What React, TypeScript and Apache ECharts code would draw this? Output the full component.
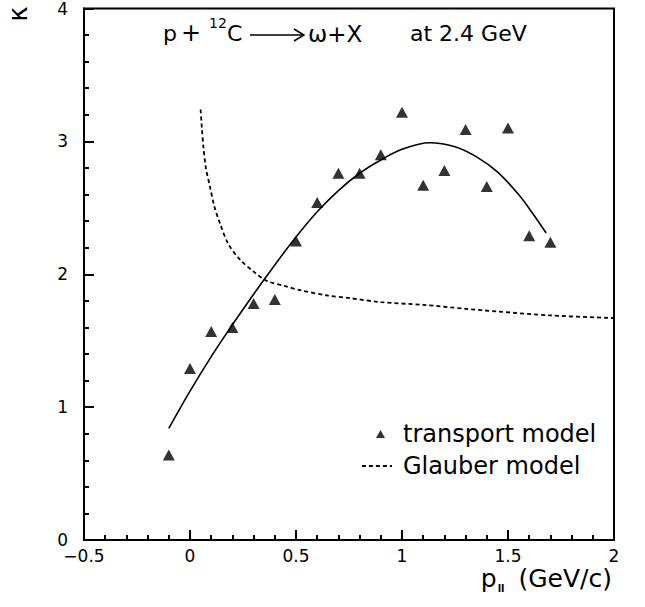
import React, { useEffect, useRef } from 'react';
import * as echarts from 'echarts';

const FONT = '"DejaVu Sans", "Liberation Sans", sans-serif';

// transport model points
const transportX = [-0.1, 0.0, 0.1, 0.2, 0.3, 0.4, 0.5, 0.6, 0.7, 0.8, 0.9, 1.0, 1.1, 1.2, 1.3, 1.4, 1.5, 1.6, 1.7];
const transportY = [0.64, 1.29, 1.57, 1.6, 1.78, 1.81, 2.25, 2.54, 2.76, 2.76, 2.9, 3.22, 2.67, 2.78, 3.09, 2.66, 3.1, 2.29, 2.24];

// solid fit curve through the transport points
const fitX = [-0.1, 0.0, 0.1, 0.2, 0.3, 0.4, 0.5, 0.6, 0.7, 0.8, 0.9, 1.0, 1.13, 1.25, 1.35, 1.45, 1.55, 1.62, 1.68];
const fitY = [0.84, 1.12, 1.38, 1.62, 1.85, 2.07, 2.28, 2.47, 2.63, 2.76, 2.86, 2.94, 2.99, 2.96, 2.885, 2.77, 2.6, 2.45, 2.31];

// Glauber model (dashed)
const glauberX = [0.05, 0.056, 0.063, 0.075, 0.094, 0.115, 0.142, 0.18, 0.236, 0.3, 0.362, 0.45, 0.519, 0.65, 0.755, 0.9, 1.1, 1.3, 1.447, 1.7, 2.0];
const glauberY = [3.24, 3.1, 2.96, 2.8, 2.66, 2.51, 2.38, 2.23, 2.11, 2.02, 1.95, 1.91, 1.88, 1.84, 1.82, 1.79, 1.77, 1.74, 1.72, 1.69, 1.67];

const xTickLabels = ['-0.5', '0', '0.5', '1', '1.5', '2'];
const yTickLabels = ['0', '1', '2', '3', '4'];

const zip = (xs: number[], ys: number[]) => xs.map((x, i) => [x, ys[i]]);

export default function App() {
  const ref = useRef<HTMLDivElement>(null);
  useEffect(() => {
    if (!ref.current) return;
    const chart = echarts.init(ref.current, null, { renderer: 'svg' });
    const axisCommon = {
      axisLine: { show: true, onZero: false, lineStyle: { color: '#000', width: 2 } },
      axisTick: { show: true, inside: true, length: 10, lineStyle: { color: '#000', width: 2 } },
      minorTick: { show: true, splitNumber: 5, length: 5, lineStyle: { color: '#000', width: 2 } },
      splitLine: { show: false },
      minorSplitLine: { show: false },
    };
    const option: any = {
      animation: false,
      backgroundColor: '#fff',
      grid: {
        left: 84, top: 8, right: 31, bottom: 67,
        show: true, borderColor: '#000', borderWidth: 2, backgroundColor: 'transparent',
      },
      xAxis: {
        type: 'value', min: -0.5, max: 2, interval: 0.5,
        ...axisCommon,
        axisLabel: {
          color: '#000', fontSize: 17, fontFamily: FONT, margin: 7,
          formatter: (v: number) => {
            const idx = Math.round((v + 0.5) / 0.5);
            const s = xTickLabels[idx] ?? String(v);
            return s.replace('-', '\u2212');
          },
        },
      },
      yAxis: {
        type: 'value', min: 0, max: 4, interval: 1,
        ...axisCommon,
        axisLabel: {
          color: '#000', fontSize: 17, fontFamily: FONT, margin: 16,
          formatter: (v: number) => yTickLabels[Math.round(v)] ?? String(v),
        },
      },
      legend: [
        {
          data: ['transport model'],
          left: 376, top: 422, padding: 0,
          itemWidth: 9, itemHeight: 8,
          selectedMode: false,
          textStyle: { color: '#000', fontSize: 24, fontFamily: FONT, lineHeight: 24, padding: [0, 0, 0, 13] },
        },
        {
          data: ['Glauber model'],
          left: 361, top: 454, padding: 0,
          itemWidth: 30, itemHeight: 12,
          selectedMode: false,
          itemStyle: { opacity: 0 },
          lineStyle: { opacity: 1, color: '#000', width: 1.8, type: [4, 3] },
          textStyle: { color: '#000', fontSize: 24, fontFamily: FONT, lineHeight: 24, padding: [0, 0, 0, 6] },
        },
      ],
      series: [
        {
          name: 'fit',
          type: 'line',
          data: zip(fitX, fitY),
          smooth: 0.35,
          symbol: 'none',
          lineStyle: { color: '#000', width: 1.6 },
          z: 2,
        },
        {
          name: 'Glauber model',
          type: 'line',
          data: zip(glauberX, glauberY),
          smooth: 0.3,
          symbol: 'none',
          itemStyle: { color: '#000' },
          lineStyle: { color: '#000', width: 1.8, type: [4, 3] },
          z: 2,
        },
        {
          name: 'transport model',
          type: 'scatter',
          data: zip(transportX, transportY),
          symbol: 'triangle',
          symbolSize: [12, 11],
          itemStyle: { color: '#000' },
          z: 3,
        },
      ],
      graphic: [
        { type: 'text', left: 163, top: 22, style: { text: 'p', fontSize: 22, fontFamily: FONT, fill: '#000' } },
        { type: 'text', left: 181, top: 21, style: { text: '+', fontSize: 24, fontFamily: FONT, fill: '#000' } },
        { type: 'text', left: 209, top: 16, style: { text: '12', fontSize: 14, fontFamily: FONT, fill: '#000' } },
        { type: 'text', left: 227, top: 22, style: { text: 'C', fontSize: 22, fontFamily: FONT, fill: '#000' } },
        { type: 'line', shape: { x1: 250, y1: 35, x2: 304, y2: 35 }, style: { stroke: '#000', lineWidth: 1.5 } },
        { type: 'polyline', shape: { points: [[294, 29], [304, 35], [294, 41]] }, style: { stroke: '#000', lineWidth: 1.5, fill: null } },
        { type: 'text', left: 308, top: 22, style: { text: 'ω+X', fontSize: 23, fontFamily: FONT, fill: '#000' } },
        { type: 'text', left: 410, top: 22, style: { text: 'at 2.4 GeV', fontSize: 22, fontFamily: FONT, fill: '#000' } },
        {
          type: 'text', right: 33, top: 566,
          style: {
            text: '{a|p}{b|ll}{a| (GeV/c)}',
            fontFamily: FONT, fill: '#000',
            rich: {
              a: { fontSize: 25, fontFamily: FONT, fill: '#000', color: '#000', lineHeight: 30 },
              b: { fontSize: 10, fontFamily: FONT, fontWeight: 'bold', fill: '#000', color: '#000', verticalAlign: 'bottom', lineHeight: 30, padding: [0, 6, 0, 1] },
            },
          },
        },
        {
          type: 'text', x: 18, y: 14, rotation: Math.PI / 2,
          style: { text: 'κ', fontSize: 26, fontFamily: FONT, fill: '#000', align: 'center', verticalAlign: 'middle' },
        },
      ],
    };
    chart.setOption(option);
    return () => chart.dispose();
  }, []);
  return (
    <div
      ref={ref}
      style={{ position: 'fixed', left: 0, top: 0, width: 645, height: 607, background: '#fff' }}
    />
  );
}
